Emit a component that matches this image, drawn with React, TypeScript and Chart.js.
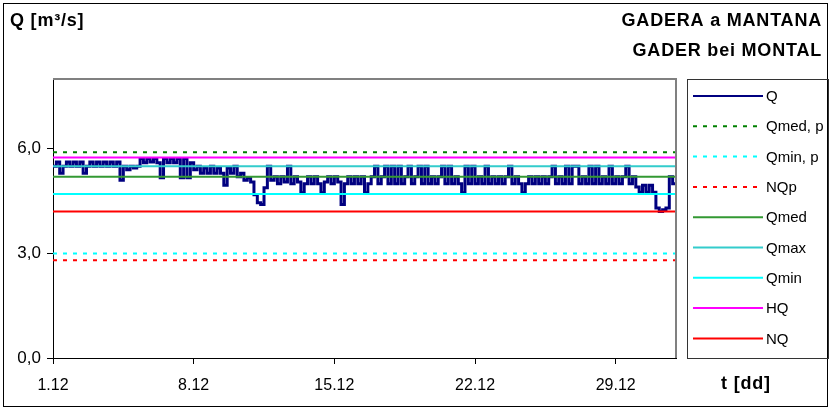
import React, { useEffect, useRef } from 'react';
import { Chart, registerables } from 'chart.js';

Chart.register(...registerables);

// ---------- DATA ----------
// Q discharge, 6 readings per day (every 4 h) from 1.12 00:00 to 1.1 00:00
const qValues = [
  5.5, 5.62, 5.3, 5.5, 5.62, 5.5,
  5.62, 5.5, 5.62, 5.3, 5.5, 5.62,
  5.5, 5.62, 5.5, 5.62, 5.5, 5.62,
  5.5, 5.62, 5.1, 5.5, 5.4, 5.5,
  5.45, 5.5, 5.72, 5.6, 5.72, 5.62,
  5.72, 5.6, 5.17, 5.72, 5.6, 5.72,
  5.6, 5.72, 5.17, 5.72, 5.17, 5.6,
  5.4, 5.5, 5.3, 5.45, 5.3, 5.5,
  5.3, 5.45, 5.3, 4.95, 5.45, 5.3,
  5.5, 5.2, 5.3, 5.1, 5.17, 5.05,
  4.68, 4.45, 4.4, 4.88, 5.5, 5.1,
  5.2, 5.0, 5.2, 5.05, 5.5, 5.0,
  5.2, 5.05, 4.74, 5.0, 5.2, 5.0,
  5.2, 5.0, 4.74, 5.05, 5.2, 5.0,
  5.2, 5.05, 4.4, 5.0, 5.2, 5.0,
  5.2, 5.0, 5.2, 4.74, 5.0, 5.2,
  5.5, 5.0, 5.2, 5.5, 5.0, 5.5,
  5.0, 5.5, 5.0, 5.2, 5.5, 5.0,
  5.2, 5.5, 5.0, 5.5, 5.0, 5.2,
  5.0, 5.2, 5.5, 5.0, 5.5, 5.0,
  5.2, 5.0, 4.74, 5.5, 5.0, 5.5,
  5.0, 5.2, 5.0, 5.5, 5.0, 5.2,
  5.0, 5.2, 5.0, 5.2, 5.5, 5.0,
  5.2, 5.0, 4.74, 5.0, 5.2, 5.0,
  5.2, 5.0, 5.2, 5.0, 5.2, 5.5,
  5.0, 5.2, 5.0, 5.5, 5.0, 5.5,
  5.5, 5.0, 5.2, 5.0, 5.5, 5.0,
  5.5, 5.0, 5.2, 5.0, 5.5, 5.0,
  5.2, 5.0, 5.2, 5.5, 5.0, 5.2,
  4.9, 4.75, 4.95, 4.75, 4.95, 4.75,
  4.3, 4.2, 4.25, 4.3, 5.2, 5.0,
  5.0,
];
const readingsPerDay = 6;

// reference levels
const refNames = ['Qmed, p', 'Qmin, p', 'NQp', 'Qmed', 'Qmax', 'Qmin', 'HQ', 'NQ'];
const refValues = [5.9, 3.0, 2.8, 5.2, 5.5, 4.7, 5.75, 4.2];

const xMinDay = 0;
const xMaxDay = 31;
const xTickDays = [0, 7, 14, 21, 28];
const xTickLabels = ['1.12', '8.12', '15.12', '22.12', '29.12'];
const yMin = 0;
const yMax = 8;
const yTicks = [0, 3, 6];
const yTickLabels = ['0,0', '3,0', '6,0'];

const titleLeft = 'Q [m³/s]';
const titleRight1 = 'GADERA a MANTANA';
const titleRight2 = 'GADER bei MONTAL';
const xAxisTitle = 't [dd]';

// ---------- STYLES ----------
const qColor = '#000080';
const refColors = ['#008000', '#00FFFF', '#FF0000', '#339933', '#33CCCC', '#00FFFF', '#FF00FF', '#FF0000'];
const refDashed = [true, true, true, false, false, false, false, false];
const FONT = "'Liberation Sans', Arial, sans-serif";

const overlayPlugin = {
  id: 'overlay',
  afterDraw(chart: any) {
    const { ctx, chartArea } = chart;
    ctx.save();
    // outer frame
    ctx.strokeStyle = '#000';
    ctx.lineWidth = 1;
    ctx.strokeRect(3.5, 3.5, 824, 403);
    // plot area gray border top & right
    ctx.strokeStyle = '#808080';
    ctx.lineWidth = 2;
    ctx.beginPath();
    ctx.moveTo(chartArea.left, chartArea.top);
    ctx.lineTo(chartArea.right, chartArea.top);
    ctx.lineTo(chartArea.right, chartArea.bottom);
    ctx.stroke();

    // titles
    ctx.fillStyle = '#000';
    ctx.textBaseline = 'middle';
    ctx.font = `bold 18px ${FONT}`;
    try { (ctx as any).letterSpacing = '0.8px'; } catch (e) {}
    ctx.textAlign = 'left';
    ctx.fillText(titleLeft, 10, 21);
    ctx.textAlign = 'right';
    ctx.fillText(titleRight1, 822, 21);
    ctx.fillText(titleRight2, 822, 51);
    ctx.textAlign = 'center';
    ctx.fillText(xAxisTitle, 746, 384);
    try { (ctx as any).letterSpacing = '0px'; } catch (e) {}

    // legend box
    const lx = 687.5, ly = 79.5, lw = 141, lh = 279;
    ctx.strokeStyle = '#333';
    ctx.lineWidth = 1;
    ctx.strokeRect(lx, ly, lw, lh);
    const ds = chart.data.datasets;
    ctx.font = `15px ${FONT}`;
    ctx.textAlign = 'left';
    for (let i = 0; i < ds.length; i++) {
      const y = 96 + i * 30.3;
      ctx.strokeStyle = ds[i].borderColor;
      ctx.lineWidth = 2;
      ctx.setLineDash(ds[i].borderDash || []);
      ctx.beginPath();
      ctx.moveTo(693, y);
      ctx.lineTo(763, y);
      ctx.stroke();
      ctx.setLineDash([]);
      ctx.fillStyle = '#000';
      ctx.fillText(ds[i].label, 766, y + 1);
    }
    ctx.restore();
  },
};

export default function App() {
  const ref = useRef<HTMLCanvasElement | null>(null);
  useEffect(() => {
    if (!ref.current) return;
    const qData = qValues.map((v, i) => ({ x: i / readingsPerDay, y: v }));
    const refSets = refNames.map((name, i) => ({
      label: name,
      data: [
        { x: xMinDay, y: refValues[i] },
        { x: xMaxDay, y: refValues[i] },
      ],
      borderColor: refColors[i],
      backgroundColor: refColors[i],
      borderWidth: 2,
      borderDash: refDashed[i] ? [4, 6] : [],
      pointRadius: 0,
      order: 0,
    }));
    const chart = new Chart(ref.current, {
      type: 'line',
      data: {
        datasets: [
          {
            label: 'Q',
            data: qData,
            borderColor: qColor,
            backgroundColor: qColor,
            borderWidth: 3,
            stepped: true,
            pointRadius: 0,
            order: 1,
          } as any,
          ...refSets,
        ],
      },
      options: {
        responsive: false,
        animation: false,
        devicePixelRatio: 1,
        layout: { padding: { left: 8, top: 79, right: 155, bottom: 12 } },
        plugins: {
          legend: { display: false },
          tooltip: { enabled: false },
          title: { display: false },
        },
        scales: {
          x: {
            type: 'linear',
            min: xMinDay,
            max: xMaxDay,
            afterBuildTicks: (s: any) => {
              s.ticks = xTickDays.map((v) => ({ value: v }));
            },
            afterFit: (s: any) => {
              s.height = 40;
            },
            ticks: {
              autoSkip: false,
              maxRotation: 0,
              color: '#000',
              font: { size: 16, family: FONT },
              padding: 12,
              callback: (v: any) => {
                const k = xTickDays.indexOf(Number(v));
                return k >= 0 ? xTickLabels[k] : '';
              },
            },
            grid: { drawOnChartArea: false, drawTicks: true, tickLength: 6, color: '#000', lineWidth: 1 },
            border: { display: true, color: '#000', width: 1 },
          },
          y: {
            type: 'linear',
            min: yMin,
            max: yMax,
            afterBuildTicks: (s: any) => {
              s.ticks = yTicks.map((v) => ({ value: v }));
            },
            afterFit: (s: any) => {
              s.width = 45;
            },
            ticks: {
              color: '#000',
              font: { size: 17, family: FONT },
              padding: 6,
              callback: (v: any) => {
                const k = yTicks.indexOf(Number(v));
                return k >= 0 ? yTickLabels[k] : '';
              },
            },
            grid: { drawOnChartArea: false, drawTicks: true, tickLength: 6, color: '#000', lineWidth: 1 },
            border: { display: true, color: '#000', width: 1 },
          },
        },
      },
      plugins: [overlayPlugin],
    } as any);
    return () => chart.destroy();
  }, []);
  return (
    <div style={{ position: 'absolute', left: 0, top: 0, width: 831, height: 410, background: '#fff' }}>
      <canvas ref={ref} width={831} height={410} style={{ display: 'block' }} />
    </div>
  );
}
